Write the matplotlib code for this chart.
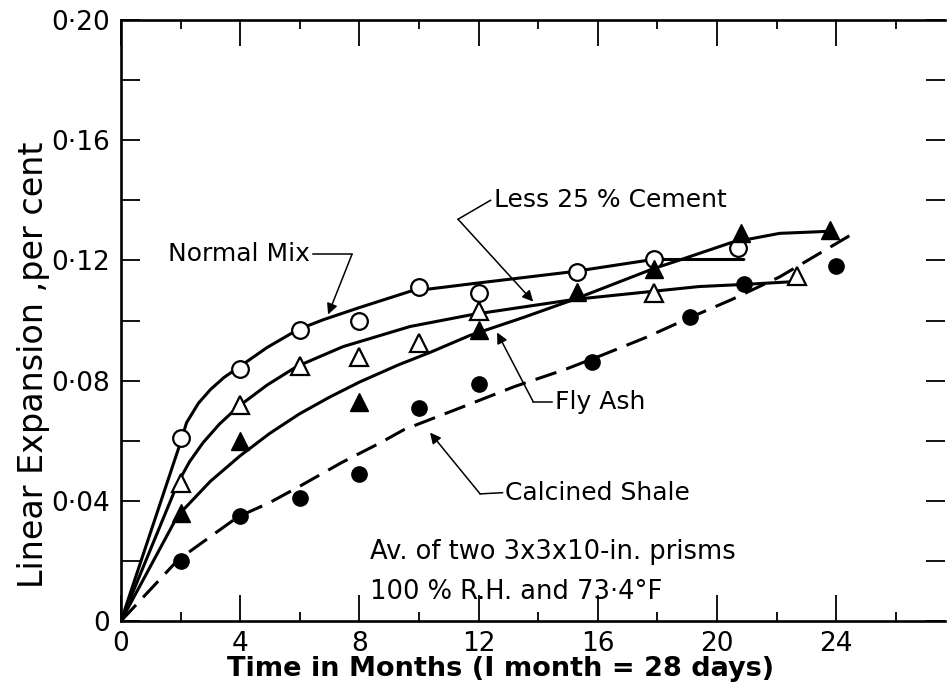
import numpy as np
import matplotlib
matplotlib.use("Agg")
import matplotlib.pyplot as plt

plt.rcParams['font.family'] = ['DejaVu Sans']

# measured points (months, % expansion)
normal_x = [2, 4, 6, 8, 10, 12, 15.3, 17.9, 20.7]
normal_y = [0.061, 0.084, 0.097, 0.0997, 0.111, 0.109, 0.116, 0.1205, 0.124]

cement_x = [2, 4, 8, 12, 15.3, 17.9, 20.8, 23.8]
cement_y = [0.036, 0.060, 0.073, 0.097, 0.1095, 0.117, 0.129, 0.130]

flyash_x = [2, 4, 6, 8, 10, 12, 17.9, 22.7]
flyash_y = [0.046, 0.072, 0.085, 0.088, 0.0925, 0.103, 0.109, 0.1147]

shale_x = [2, 4, 6, 8, 10, 12, 15.8, 19.1, 20.9, 24.0]
shale_y = [0.020, 0.035, 0.041, 0.049, 0.071, 0.079, 0.0863, 0.101, 0.112, 0.118]

# hand drawn curves
normal_cx = [0, 1.95, 2.2, 2.6, 3.0, 3.45, 3.93, 4.9, 5.94, 6.8, 8.0, 9.7, 12.0, 15.2, 17.85, 20.9]
normal_cy = [0, 0.058, 0.066, 0.0725, 0.077, 0.081, 0.0843, 0.091, 0.097, 0.1003, 0.1043, 0.1097, 0.1125, 0.1163, 0.1203, 0.1203]

cement_cx = [0, 1.9, 3.0, 4.0, 5.0, 6.0, 7.0, 8.0, 9.3, 10.4, 11.7, 13.5, 15.2, 16.5, 17.85, 18.8, 20.5, 22.1, 23.8]
cement_cy = [0, 0.035, 0.0465, 0.055, 0.0625, 0.069, 0.0745, 0.0795, 0.0852, 0.0895, 0.095, 0.101, 0.107, 0.112, 0.1172, 0.1203, 0.126, 0.129, 0.1297]

flyash_cx = [0, 1.91, 2.3, 2.75, 3.3, 3.93, 4.9, 5.9, 7.45, 9.7, 11.8, 15.2, 19.4, 20.9, 22.7]
flyash_cy = [0, 0.046, 0.053, 0.0593, 0.0655, 0.0713, 0.0785, 0.0847, 0.0913, 0.098, 0.102, 0.107, 0.1113, 0.112, 0.113]

shale_cx = [0, 1.91, 2.99, 3.93, 4.97, 5.9, 7.4, 8.7, 9.5, 11.4, 13.2, 14.9, 16.2, 17.6, 19.1, 20.5, 22.1, 24.7]
shale_cy = [0, 0.0203, 0.028, 0.0347, 0.0393, 0.0443, 0.0527, 0.0593, 0.0637, 0.071, 0.078, 0.0837, 0.0887, 0.0943, 0.101, 0.107, 0.1145, 0.1297]

x_major = [0, 4, 8, 12, 16, 20, 24]
x_minor = [2, 6, 10, 14, 18, 22, 26]
y_major = [0, 0.04, 0.08, 0.12, 0.16, 0.20]
y_labels = ["0", "0·04", "0·08", "0·12", "0·16", "0·20"]
y_minor = [0.02, 0.06, 0.10, 0.14, 0.18]

# labels: text, text anchor, leader corner, arrow tip
labels = [
    ("Normal Mix", (6.35, 0.122), "right", (7.75, 0.122), (6.95, 0.102)),
    ("Less 25 % Cement", (12.5, 0.1400), "left", (11.31, 0.1337), (13.83, 0.1063)),
    ("Fly Ash", (14.55, 0.073), "left", (13.83, 0.073), (12.62, 0.096)),
    ("Calcined Shale", (12.9, 0.0427), "left", (12.05, 0.0423), (10.37, 0.0627)),
]
note1 = "Av. of two 3x3x10-in. prisms"
note2 = "100 % R.H. and 73·4°F"


def main():
    fig = plt.figure(figsize=(9.47, 6.92), dpi=100)
    ax = fig.add_axes([121/947, 1-621/692, (945-121)/947, (621-20)/692])

    lw = 2.2
    ax.plot(normal_cx, normal_cy, color='black', lw=lw, solid_capstyle='round')
    ax.plot(cement_cx, cement_cy, color='black', lw=lw, solid_capstyle='round')
    ax.plot(flyash_cx, flyash_cy, color='black', lw=lw, solid_capstyle='round')
    ax.plot(shale_cx, shale_cy, color='black', lw=lw, linestyle=(0, (7.2, 3.4)))

    ax.plot(normal_x, normal_y, 'o', ms=12, mfc='white', mec='black', mew=1.6, zorder=5)
    ax.plot(flyash_x, flyash_y, '^', ms=13, mfc='white', mec='black', mew=1.6, zorder=5)
    ax.plot(cement_x, cement_y, '^', ms=13, mfc='black', mec='black', zorder=5)
    ax.plot(shale_x, shale_y, 'o', ms=11, mfc='black', mec='black', zorder=5)

    for txt, pos, ha, corner, tip in labels:
        ax.text(pos[0], pos[1], txt, fontsize=18, ha=ha, va='center')
        x0 = pos[0] + (0.1 if ha == 'right' else -0.1)
        ax.plot([x0, corner[0]], [pos[1], corner[1]], color='black', lw=1.1)
        ax.annotate("", xy=tip, xytext=corner,
                    arrowprops=dict(arrowstyle='-|>', color='black', lw=1.1,
                                    mutation_scale=16, shrinkA=0, shrinkB=0))

    ax.text(8.36, 0.0228, note1, fontsize=18.5, ha='left', va='center')
    ax.text(8.36, 0.0095, note2, fontsize=18.5, ha='left', va='center')

    ax.set_xlim(0, 27.65)
    ax.set_ylim(0, 0.20)

    ax.set_xticks(x_major)
    ax.set_xticklabels([str(v) for v in x_major])
    ax.set_xticks(x_minor, minor=True)
    ax.set_yticks(y_major)
    ax.set_yticklabels(y_labels)
    ax.set_yticks(y_minor, minor=True)

    ax.tick_params(axis='x', which='major', direction='in', length=19, width=1.3,
                   top=True, labelsize=19, pad=7)
    ax.tick_params(axis='x', which='minor', direction='in', length=6.5, width=1.3, top=True)
    ax.tick_params(axis='y', which='both', direction='in', length=14, width=1.3,
                   right=True, labelsize=19, pad=8)

    for s in ['left', 'bottom', 'top']:
        ax.spines[s].set_linewidth(1.9)
    ax.spines['right'].set_visible(False)

    fig.text(0.035, 0.4725, "Linear Expansion ,per cent", rotation=90,
             ha='center', va='center', fontsize=24)
    fig.text(0.529, 0.033, "Time in Months (I month = 28 days)",
             ha='center', va='center', fontsize=19.5, fontweight='bold')

    fig.savefig("out.png", dpi=100)


if __name__ == "__main__":
    main()
